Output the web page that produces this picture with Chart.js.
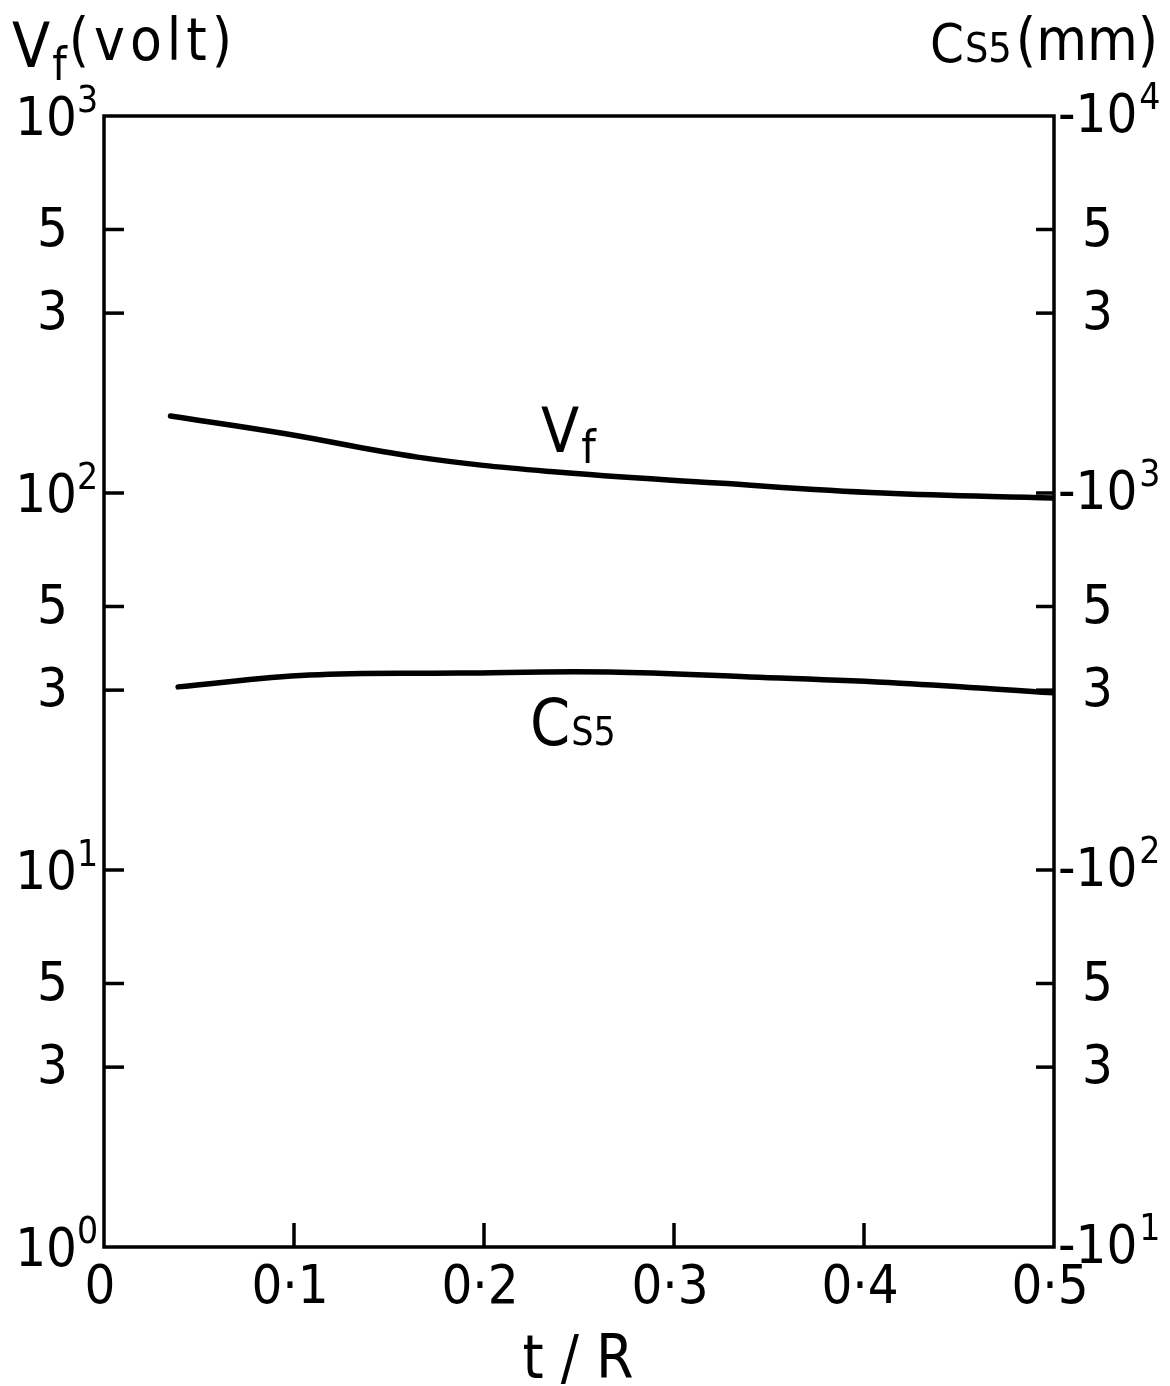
<!DOCTYPE html>
<html lang="en">

<head>
    <meta charset="UTF-8">
    <title>Vf and Cs5 vs t/R</title>
    <script src="https://cdn.jsdelivr.net/npm/chart.js"></script>
    <style>
        body {
            margin: 0;
            background: #fff;
        }

        #chart {
            display: block;
        }
    </style>
</head>

<body>
    <canvas id="chart" width="1170" height="1386"></canvas>

    <script>
        // t/R positions and values
        const tVf = [0.035, 0.094, 0.165, 0.235, 0.323, 0.410, 0.5];
        const vf = [160, 144, 124.5, 114, 106.3, 100, 97];          // volt
        const tCs5 = [0.039, 0.108, 0.187, 0.266, 0.340, 0.419, 0.5];
        const cs5 = [306, 329, 333, 335, 325, 313, 295];             // mm (negative)

        // axis ticks
        const xTicks = [0, 0.1, 0.2, 0.3, 0.4, 0.5];
        const xTickLabels = ['0', '0\u00b71', '0\u00b72', '0\u00b73', '0\u00b74', '0\u00b75'];
        const leftTicks = [1, 3, 5, 10, 30, 50, 100, 300, 500, 1000];
        const rightTicks = [10, 30, 50, 100, 300, 500, 1000, 3000, 5000, 10000];

        const FONT = '"DejaVu Sans Condensed", "DejaVu Sans", sans-serif';

        function font(size) {
            return size + 'px ' + FONT;
        }

        // is value a power of ten -> returns exponent, else null
        function decade(v) {
            const e = Math.log10(v);
            return Math.abs(e - Math.round(e)) < 1e-9 ? Math.round(e) : null;
        }

        // leading digit of a tick value (5 for 500, 3 for 30 ...)
        function mantissa(v) {
            return String(Math.round(v / Math.pow(10, Math.floor(Math.log10(v)))));
        }

        // draws pieces of text one after the other, each with own font / baseline
        function drawRun(ctx, x, parts) {
            parts.forEach(p => {
                ctx.font = font(p.size);
                ctx.letterSpacing = (p.spacing || 0) + 'px';
                ctx.textBaseline = 'alphabetic';
                ctx.textAlign = 'left';
                ctx.fillText(p.text, x + (p.dx || 0), p.y);
                x += (p.dx || 0) + ctx.measureText(p.text).width;
            });
            ctx.letterSpacing = '0px';
        }

        const axesPlugin = {
            id: 'axesPlugin',
            afterDraw(chart) {
                const ctx = chart.ctx;
                const area = chart.chartArea;
                const xs = chart.scales.x;
                const yl = chart.scales.y;
                const yr = chart.scales.y2;

                ctx.save();
                ctx.strokeStyle = '#000';
                ctx.fillStyle = '#000';
                ctx.lineWidth = 3.5;
                ctx.lineCap = 'butt';

                // frame
                ctx.strokeRect(area.left, area.top, area.right - area.left, area.bottom - area.top);

                // x ticks (inward) and labels
                xTicks.forEach((v, i) => {
                    const px = xs.getPixelForValue(v);
                    if (v > 0 && v < 0.5) {
                        ctx.beginPath();
                        ctx.moveTo(px, area.bottom);
                        ctx.lineTo(px, area.bottom - 24);
                        ctx.stroke();
                    }
                    ctx.font = font(54);
                    ctx.textAlign = 'center';
                    ctx.textBaseline = 'middle';
                    ctx.fillText(xTickLabels[i], px - 4, area.bottom + 42);
                });

                // left ticks and labels
                leftTicks.forEach(v => {
                    const py = yl.getPixelForValue(v);
                    if (v > 1 && v < 1000) {
                        ctx.beginPath();
                        ctx.moveTo(area.left, py);
                        ctx.lineTo(area.left + 20, py);
                        ctx.stroke();
                    }
                    const e = decade(v);
                    ctx.font = font(54);
                    ctx.textBaseline = 'middle';
                    if (e === null) {
                        ctx.textAlign = 'right';
                        ctx.fillText(mantissa(v), 68, py + 2);
                    } else {
                        ctx.textAlign = 'right';
                        ctx.fillText('10', 77, py + 5);
                        ctx.font = font(37);
                        ctx.textAlign = 'left';
                        ctx.fillText(String(e), 77, py - 14);
                    }
                });

                // right ticks and labels
                rightTicks.forEach(v => {
                    const py = yr.getPixelForValue(v);
                    if (v > 10 && v < 10000) {
                        ctx.beginPath();
                        ctx.moveTo(area.right, py);
                        ctx.lineTo(area.right - 18, py);
                        ctx.stroke();
                    }
                    const e = decade(v);
                    ctx.textAlign = 'left';
                    ctx.textBaseline = 'middle';
                    ctx.font = font(54);
                    if (e === null) {
                        ctx.fillText(mantissa(v), 1082, py + 2);
                    } else {
                        ctx.fillText('-10', 1058, py + 2);
                        const w = ctx.measureText('-10').width;
                        ctx.font = font(37);
                        ctx.fillText(String(e), 1060 + w, py - 17);
                    }
                });

                // axis titles
                drawRun(ctx, 12, [
                    { text: 'V', size: 62, y: 67 },
                    { text: 'f', size: 46, y: 80, dx: 2 },
                    { text: '(volt)', size: 58, y: 60, dx: 2, spacing: 5 }
                ]);
                drawRun(ctx, 930, [
                    { text: 'C', size: 54, y: 62 },
                    { text: 'S5', size: 41, y: 62, dx: 1 },
                    { text: '(mm)', size: 58, y: 60, dx: 4 }
                ]);
                ctx.font = font(60);
                ctx.textAlign = 'center';
                ctx.textBaseline = 'alphabetic';
                ctx.fillText('t / R', 578, 1378);

                // curve labels
                drawRun(ctx, 541, [
                    { text: 'V', size: 62, y: 452 },
                    { text: 'f', size: 46, y: 463, dx: 2 }
                ]);
                drawRun(ctx, 530, [
                    { text: 'C', size: 64, y: 745 },
                    { text: 'S5', size: 39, y: 745, dx: 1 }
                ]);

                ctx.restore();
            }
        };

        const ctx = document.getElementById('chart').getContext('2d');
        const chart = new Chart(ctx, {
            type: 'line',
            data: {
                datasets: [{
                    label: 'Vf',
                    data: tVf.map((t, i) => ({ x: t, y: vf[i] })),
                    yAxisID: 'y',
                    borderColor: '#000',
                    borderWidth: 5.5,
                    pointRadius: 0,
                    fill: false,
                    tension: 0.4,
                    borderCapStyle: 'round'
                }, {
                    label: 'Cs5',
                    data: tCs5.map((t, i) => ({ x: t, y: cs5[i] })),
                    yAxisID: 'y2',
                    borderColor: '#000',
                    borderWidth: 5.5,
                    pointRadius: 0,
                    fill: false,
                    tension: 0.4,
                    borderCapStyle: 'round'
                }]
            },
            options: {
                responsive: false,
                devicePixelRatio: 1,
                animation: false,
                layout: {
                    padding: { top: 116, left: 0, right: 0, bottom: 0 }
                },
                plugins: {
                    legend: { display: false },
                    tooltip: { enabled: false }
                },
                scales: {
                    x: {
                        type: 'linear',
                        min: 0,
                        max: 0.5,
                        ticks: { display: false, stepSize: 0.1 },
                        grid: { display: false },
                        border: { display: false },
                        afterFit: s => { s.height = 139; }
                    },
                    y: {
                        type: 'logarithmic',
                        position: 'left',
                        min: 1,
                        max: 1000,
                        ticks: { display: false },
                        grid: { display: false },
                        border: { display: false },
                        afterFit: s => { s.width = 104; }
                    },
                    y2: {
                        type: 'logarithmic',
                        position: 'right',
                        min: 10,
                        max: 10000,
                        ticks: { display: false },
                        grid: { display: false },
                        border: { display: false },
                        afterFit: s => { s.width = 116; }
                    }
                }
            },
            plugins: [axesPlugin]
        });
    </script>
</body>

</html>
